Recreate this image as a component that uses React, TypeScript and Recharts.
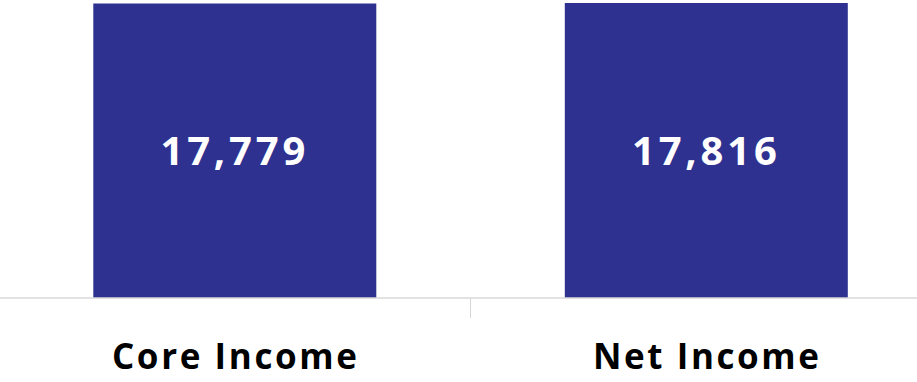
import { BarChart, Bar, XAxis, YAxis, LabelList } from "recharts"

const categories = ["Core Income", "Net Income"]
const values = [17779, 17816]

const data = categories.map((name, i) => ({ name, value: values[i] }))

const CHART_W = 943
const CHART_H = 382
const HALF_BAND = CHART_W / categories.length / 2

function CategoryTick(props: any) {
  const { x, y, payload } = props
  const off = payload?.offset ?? HALF_BAND
  return (
    <g>
      <text
        x={x + 1}
        y={y}
        dy={63}
        textAnchor="middle"
        fill="#000"
        fontFamily="'Open Sans', sans-serif"
        fontWeight={700}
        fontSize={35}
        style={{ letterSpacing: 2.6 }}
      >
        {payload.value}
      </text>
      {payload.index === 0 && (
        <line x1={x + off} x2={x + off} y1={y - 8} y2={y + 12} stroke="#d6d6d6" strokeWidth={1} />
      )}
    </g>
  )
}

export default function App() {
  return (
    <div style={{ position: "fixed", left: 0, top: 0, width: 917, height: 382, overflow: "hidden", background: "#fff" }}>
      <BarChart
        width={CHART_W}
        height={CHART_H}
        data={data}
        margin={{ top: 3, right: 0, bottom: 0, left: 0 }}
        barCategoryGap="20%"
        style={{ marginLeft: -1 }}
      >
        <XAxis
          dataKey="name"
          height={84}
          axisLine={{ stroke: "#d9d9d9", strokeWidth: 1.5 }}
          tickLine={false}
          tick={<CategoryTick />}
          interval={0}
        />
        <YAxis hide domain={[0, 17816]} />
        <Bar dataKey="value" fill="#2E3190" isAnimationActive={false}>
          <LabelList
            dataKey="value"
            position="center"
            formatter={(v: any) => Number(v).toLocaleString("en-US")}
            fill="#fff"
            fontFamily="'Open Sans', sans-serif"
            fontWeight={700}
            fontSize={40}
            style={{ letterSpacing: 3.8 }}
          />
        </Bar>
      </BarChart>
    </div>
  )
}
